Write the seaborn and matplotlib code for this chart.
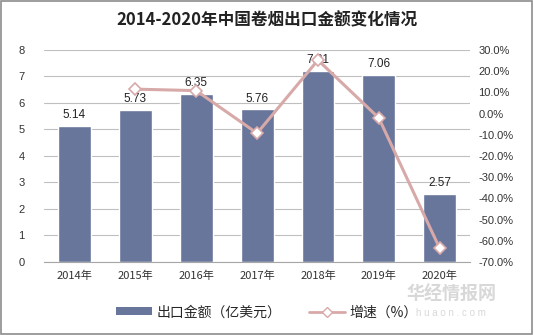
import numpy as np
import pandas as pd
import matplotlib
matplotlib.use("Agg")
import matplotlib.pyplot as plt
import seaborn as sns
from matplotlib.lines import Line2D
from matplotlib.patches import Patch, Rectangle

years = ["2014年", "2015年", "2016年", "2017年", "2018年", "2019年", "2020年"]
export_value = [5.14, 5.73, 6.35, 5.76, 7.21, 7.06, 2.57]
growth = [np.nan, 11.5, 10.8, -9.3, 25.2, -2.1, -63.6]
left_ticks = [0, 1, 2, 3, 4, 5, 6, 7, 8]
right_ticks = [30, 20, 10, 0, -10, -20, -30, -40, -50, -60, -70]

sns.set_theme(style="white")
plt.rcParams['font.family'] = ['Noto Sans CJK SC', 'DejaVu Sans']

bar_color = "#68769B"
line_color = "#D8A9A9"
grid_color = "#BFBFBF"

df = pd.DataFrame({"year": years, "value": export_value, "growth": growth})
df["pos"] = np.arange(len(df))

fig = plt.figure(figsize=(5.34, 3.35), dpi=100)
ax = fig.add_axes([0.0824, 0.218, 0.798, 0.633])

sns.barplot(data=df, x="year", y="value", color=bar_color, width=0.54,
            saturation=1, ax=ax, zorder=2)
ax.set_ylim(0, 8)
ax.set_xlim(-0.5, len(years) - 0.5)
ax.set_yticks(left_ticks)
ax.set_yticklabels([str(t) for t in left_ticks], fontsize=8, color="#333333",
                   family=['Liberation Sans', 'DejaVu Sans'])
ax.set_xlabel("")
ax.set_ylabel("")
ax.tick_params(axis="x", labelsize=8, colors="#333333", length=0, pad=6)
ax.tick_params(axis="y", length=0, pad=14)
for lab in ax.get_xticklabels():
    lab.set_family(['Noto Sans CJK SC', 'DejaVu Sans'])
ax.grid(axis="y", color=grid_color, linewidth=0.8, zorder=0)
ax.set_axisbelow(True)
for side in ["left", "right", "top"]:
    ax.spines[side].set_visible(False)
ax.spines["bottom"].set_color("#A6A6A6")
ax.spines["bottom"].set_linewidth(0.8)
# category boundary ticks
ax.set_xticks(np.arange(-0.5, len(years) + 0.5, 1.0), minor=True)
ax.tick_params(axis="x", which="minor", length=4, color="#A6A6A6", width=0.8,
               direction="out")

for p, v in zip(df["pos"], df["value"]):
    ax.text(p, v + 0.18, f"{v:.2f}", ha="center", va="bottom", fontsize=8.5,
            color="#222222", family=['Liberation Sans', 'DejaVu Sans'])

ax2 = ax.twinx()
sns.lineplot(x=df["pos"], y=df["growth"], ax=ax2, color=line_color,
             linewidth=2.2, marker="D", markersize=6, markerfacecolor="white",
             markeredgecolor=line_color, markeredgewidth=1.2, zorder=3)
ax2.set_ylim(-70, 30)
ax2.set_yticks(right_ticks)
ax2.set_yticklabels([f"{t:.1f}%" for t in right_ticks], fontsize=8,
                    color="#333333", family=['Liberation Sans', 'DejaVu Sans'])
ax2.tick_params(axis="y", length=0, pad=6)
ax2.set_ylabel("")
ax2.set_xlabel("")
for side in ["left", "right", "top", "bottom"]:
    ax2.spines[side].set_visible(False)
ax2.set_xlim(-0.5, len(years) - 0.5)

fig.text(0.5, 0.94, "2014-2020年中国卷烟出口金额变化情况", ha="center", va="center",
         fontsize=12, fontweight="bold", color="#222222")

handles = [
    Patch(facecolor=bar_color, edgecolor="none"),
    Line2D([0], [0], color=line_color, linewidth=2, marker="D", markersize=5,
           markerfacecolor="white", markeredgecolor=line_color),
]
fig.legend(handles, ["出口金额（亿美元）", "增速（%）"], loc="center",
           bbox_to_anchor=(0.5, 0.068), ncol=2, frameon=False, fontsize=10,
           handlelength=2.6, handleheight=0.5, columnspacing=2.0,
           handletextpad=0.3)

# watermark
fig.text(0.845, 0.12, "华经情报网", ha="center", va="center", fontsize=13,
         color="#C8C8C8", alpha=0.7, fontweight="bold")
fig.text(0.845, 0.065, "h u a o n . c o m", ha="center", va="center",
         fontsize=7, color="#C8C8C8", alpha=0.7,
         family=['Liberation Sans', 'DejaVu Sans'])

fig.patches.append(Rectangle((0.002, 0.003), 0.995, 0.994, transform=fig.transFigure,
                             fill=False, edgecolor="#8C8C8C", linewidth=1.2))

fig.savefig("out.png", dpi=100)
